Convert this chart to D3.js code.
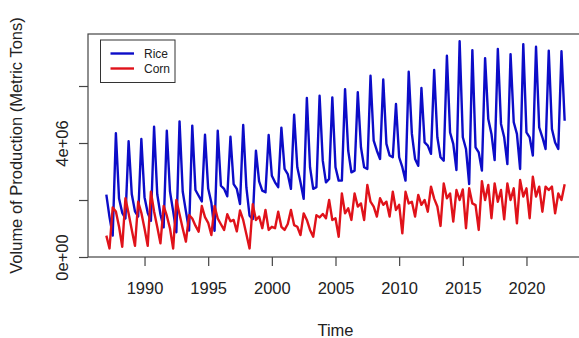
<!DOCTYPE html>
<html>
<head>
<meta charset="utf-8">
<script src="https://cdn.jsdelivr.net/npm/d3@7"></script>
<style>
  html, body { margin: 0; padding: 0; background: #fff; }
  svg { display: block; font-family: "Liberation Sans", Arial, sans-serif; }
</style>
</head>
<body>
<svg id="chart" width="579" height="338"></svg>
<script>
// ---- data (quarterly, 1987 Q1 .. 2023 Q1), values in millions of metric tons ----
const startYear = 1987;
const quartersPerYear = 4;
const unit = 1e6;

const rice = [
  2.19, 1.40, 0.75, 4.34,
  2.05, 1.55, 1.35, 4.06,
  2.20, 1.60, 1.42, 4.14,
  2.10, 1.55, 1.27, 4.57,
  2.20, 1.50, 1.04, 4.43,
  2.30, 1.60, 0.87, 4.76,
  2.30, 1.60, 0.93, 4.61,
  2.35, 2.15, 1.95, 4.29,
  2.40, 1.90, 0.92, 4.43,
  2.50, 2.39, 2.13, 4.22,
  2.56, 2.39, 1.86, 4.63,
  2.44, 1.45, 1.33, 3.73,
  2.65, 2.33, 2.27, 4.28,
  2.85, 2.62, 2.45, 4.54,
  3.09, 2.91, 2.39, 4.99,
  3.15, 2.62, 2.04, 5.58,
  3.15, 2.39, 2.45, 5.66,
  3.38, 2.62, 2.74, 5.60,
  3.15, 2.68, 2.68, 5.89,
  3.73, 2.97, 3.03, 5.78,
  3.85, 3.15, 3.09, 6.36,
  4.08, 3.73, 3.44, 6.23,
  3.97, 3.56, 3.50, 5.37,
  3.50, 3.15, 2.68, 6.50,
  4.32, 3.44, 3.20, 5.93,
  4.02, 3.91, 3.62, 6.56,
  4.20, 3.50, 3.38, 7.06,
  4.37, 3.97, 3.05, 7.57,
  4.20, 3.79, 2.56, 7.26,
  3.85, 3.67, 3.03, 6.98,
  4.84, 4.32, 3.40, 7.30,
  4.67, 4.20, 3.26, 7.12,
  4.73, 4.32, 3.09, 7.47,
  4.37, 4.20, 3.56, 7.38,
  4.55, 4.20, 3.79, 7.24,
  4.49, 4.02, 3.79, 7.22,
  4.78
];

const corn = [
  0.75, 0.30, 1.74, 1.60,
  1.06, 0.36, 2.06, 1.53,
  0.95, 0.39, 1.94, 1.55,
  1.00, 0.39, 2.29, 1.60,
  1.05, 0.48, 1.79, 1.45,
  1.00, 0.30, 2.00, 1.50,
  1.00, 0.54, 1.47, 1.35,
  1.10, 0.89, 1.79, 1.40,
  1.20, 0.77, 1.79, 1.35,
  1.15, 0.95, 1.50, 1.25,
  1.30, 0.90, 1.63, 1.30,
  0.80, 0.30, 1.85, 1.30,
  1.42, 1.01, 1.65, 0.95,
  1.06, 1.01, 1.59, 1.06,
  0.95, 1.16, 1.65, 1.12,
  1.06, 0.77, 1.53, 1.30,
  0.95, 0.71, 1.47, 1.39,
  1.51, 1.36, 2.00, 1.30,
  1.36, 0.71, 2.23, 1.53,
  1.71, 1.30, 2.23, 1.77,
  1.88, 1.30, 2.53, 1.94,
  1.77, 1.42, 2.06, 1.83,
  1.94, 1.42, 2.29, 1.65,
  1.83, 0.83, 2.29, 1.88,
  1.94, 1.42, 2.18, 1.83,
  2.00, 1.59, 2.47, 2.05,
  1.77, 1.09, 2.58, 2.06,
  2.23, 1.24, 2.35, 2.00,
  2.37, 1.01, 2.41, 1.88,
  1.82, 0.95, 2.66, 2.00,
  2.53, 1.36, 2.58, 1.94,
  2.35, 1.32, 2.58, 2.00,
  2.41, 1.18, 2.70, 2.12,
  2.41, 1.36, 2.82, 2.12,
  2.47, 1.59, 2.47, 2.35,
  2.47, 1.53, 2.23, 2.00,
  2.55
];

const seriesNames = ["Rice", "Corn"];
const seriesColors = ["#0c0cc8", "#e0121a"];
const xTicks = [1990, 1995, 2000, 2005, 2010, 2015, 2020];
const yTicks = [0, 2e6, 4e6, 6e6];
const yTickLabels = ["0e+00", "", "4e+06", ""];
const xTitle = "Time";
const yTitle = "Volume of Production (Metric Tons)";

// ---- layout ----
const svg = d3.select("#chart");
const plot = { left: 88, right: 583, top: 34, bottom: 257 };

const x = d3.scaleLinear().domain([1985.56, 2024.44]).range([plot.left, plot.right]);
const y = d3.scaleLinear().domain([0, 7.825e6]).range([plot.bottom, plot.top]);

const t = i => startYear + i / quartersPerYear;

svg.append("clipPath").attr("id", "clip")
  .append("rect")
  .attr("x", plot.left).attr("y", plot.top)
  .attr("width", plot.right - plot.left).attr("height", plot.bottom - plot.top);

const line = d3.line()
  .x((d, i) => x(t(i)))
  .y(d => y(d * unit));

const g = svg.append("g").attr("clip-path", "url(#clip)");
[rice, corn].forEach((s, k) => {
  g.append("path")
    .datum(s)
    .attr("fill", "none")
    .attr("stroke", seriesColors[k])
    .attr("stroke-width", 2.4)
    .attr("stroke-linejoin", "round")
    .attr("d", line);
});

// box
svg.append("rect")
  .attr("x", plot.left).attr("y", plot.top)
  .attr("width", plot.right - plot.left).attr("height", plot.bottom - plot.top)
  .attr("fill", "none").attr("stroke", "#444").attr("stroke-width", 1.2);

// x axis
const xAxis = d3.axisBottom(x).tickValues(xTicks).tickSize(9).tickPadding(16)
  .tickFormat(d3.format("d"));
const gx = svg.append("g").attr("transform", `translate(0,${plot.bottom})`).call(xAxis);
gx.select(".domain").remove();
gx.selectAll(".tick line").attr("stroke", "#444").attr("stroke-width", 1.2);
gx.selectAll("text").attr("font-size", 16.5).attr("fill", "#222")
  .attr("font-family", "Liberation Sans, Arial, sans-serif");

// y axis
const yAxis = d3.axisLeft(y).tickValues(yTicks).tickSize(9)
  .tickFormat((d, i) => yTickLabels[i]);
const gy = svg.append("g").attr("transform", `translate(${plot.left},0)`).call(yAxis);
gy.select(".domain").remove();
gy.selectAll(".tick line").attr("stroke", "#444").attr("stroke-width", 1.2);
gy.selectAll("text")
  .attr("font-size", 16.5).attr("fill", "#222")
  .attr("font-family", "Liberation Sans, Arial, sans-serif")
  .attr("text-anchor", "middle")
  .attr("x", 0).attr("dy", 0)
  .attr("transform", "translate(-20,0) rotate(-90)")
  .attr("dominant-baseline", "auto");

// titles
svg.append("text")
  .attr("x", (plot.left + plot.right) / 2).attr("y", 336)
  .attr("text-anchor", "middle").attr("font-size", 16.5).attr("fill", "#222")
  .text(xTitle);

svg.append("text")
  .attr("transform", `translate(22,${(plot.top + plot.bottom) / 2}) rotate(-90)`)
  .attr("text-anchor", "middle").attr("font-size", 16.5).attr("fill", "#222")
  .text(yTitle);

// legend
const lg = svg.append("g");
lg.append("rect").attr("x", 100.5).attr("y", 40).attr("width", 74.5).attr("height", 42.5)
  .attr("fill", "#fff").attr("stroke", "#333").attr("stroke-width", 1);
seriesNames.forEach((name, k) => {
  const yy = 53.5 + k * 15;
  lg.append("line").attr("x1", 110.5).attr("x2", 134).attr("y1", yy).attr("y2", yy)
    .attr("stroke", seriesColors[k]).attr("stroke-width", 2.4);
  lg.append("text").attr("x", 144).attr("y", yy).attr("dy", "0.35em")
    .attr("font-size", 12).attr("fill", "#222").text(name);
});
</script>
</body>
</html>
